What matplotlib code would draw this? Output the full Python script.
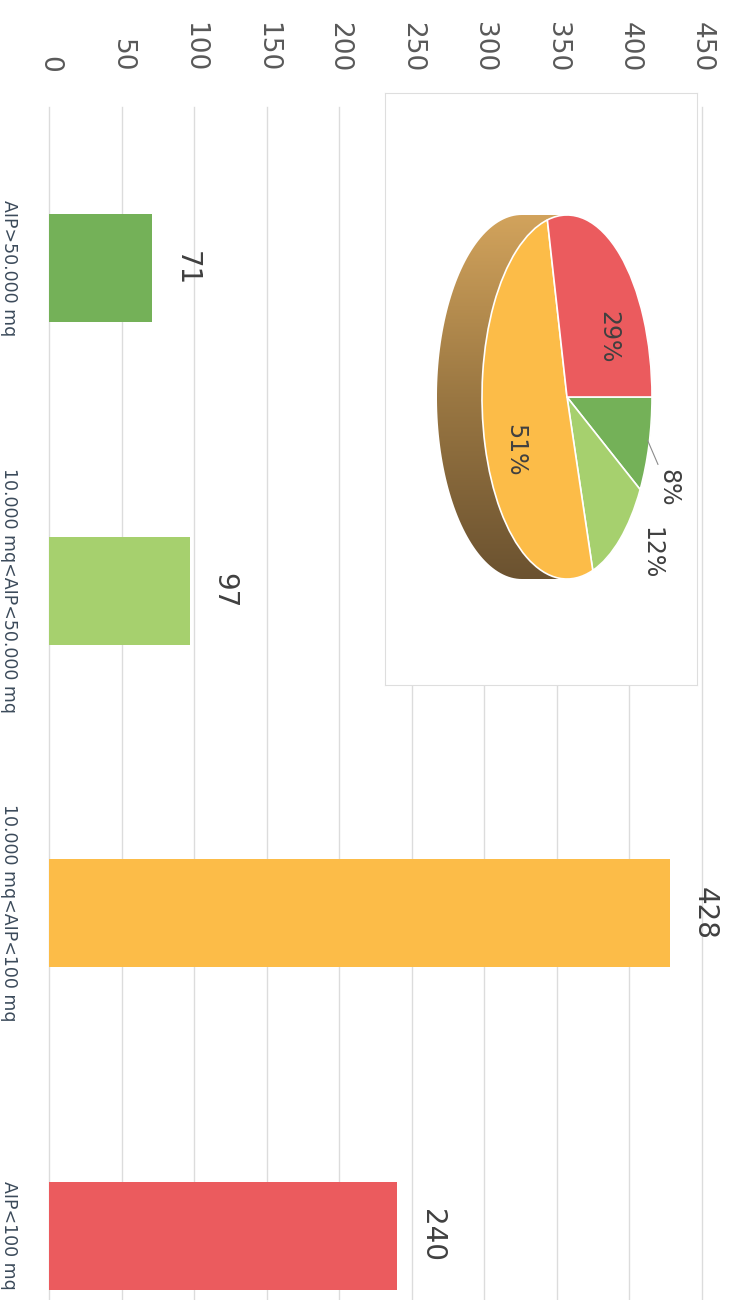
import numpy as np
import matplotlib.pyplot as plt
from matplotlib.colors import LinearSegmentedColormap
from matplotlib.patches import Polygon

categories = ['AIP>50.000 mq', '10.000 mq<AIP<50.000 mq', '10.000 mq<AIP<100 mq', 'AIP<100 mq']
values = [71, 97, 428, 240]
colors = ['#74b158', '#a6d06e', '#fcbc48', '#eb5b5e']
value_ticks = list(range(0, 451, 50))

W, H = 731, 1300
fig = plt.figure(figsize=(W / 100, H / 100), dpi=100)
fig.patch.set_facecolor('white')


def box(x0, y0, x1, y1):
    # pixel box on the page (origin top-left) -> figure fraction rect
    return [x0 / W, 1 - y1 / H, (x1 - x0) / W, (y1 - y0) / H]


# bar chart, drawn sideways (page is turned a quarter clockwise)
ax = fig.add_axes(box(49, 107, 702, 1397))
ax.barh(range(len(values)), values, height=0.335, color=colors, zorder=2)
ax.set_xlim(0, 450)
ax.set_ylim(len(values) - 0.5, -0.5)
ax.xaxis.tick_top()
ax.set_xticks(value_ticks)
ax.tick_params(axis='x', length=0, pad=25, labelsize=19, labelcolor='#595959', labelrotation=-90)
ax.set_yticks(range(len(categories)), categories)
ax.tick_params(axis='y', length=0, pad=22, labelsize=12.5, labelcolor='#3b4a5a', labelrotation=-90)
for lab in ax.get_yticklabels():
    lab.set_va('center')
ax.grid(axis='x', color='#dcdcdc', lw=1)
for gl in ax.get_xgridlines():
    gl.set_clip_on(False)
ax.set_axisbelow(True)
for s in ax.spines.values():
    s.set_visible(False)

for i, v in enumerate(values):
    ax.annotate(str(v), (v, i), xytext=(15, 0), textcoords='offset points',
                rotation=-90, ha='left', va='center', fontsize=20, color='#404040')

# pie inset
pax = fig.add_axes(box(385, 93, 697, 685), zorder=3)
pw, ph = 697 - 385, 685 - 93
cx, cy = 567 - 385, 397 - 93
rx, ry = 85, 182
depth = 45 / rx

# side of the 3d pie
t1 = np.linspace(np.pi / 2, -np.pi / 2, 100)
t2 = np.linspace(-np.pi / 2, -3 * np.pi / 2, 100)
side = np.concatenate([np.c_[np.cos(t1), np.sin(t1)],
                       np.c_[np.cos(t2) - depth, np.sin(t2)]])
side_patch = Polygon(side, closed=True, facecolor='none', edgecolor='none')
pax.add_patch(side_patch)
cmap = LinearSegmentedColormap.from_list('side', ['#6b5230', '#9a7742', '#d2a35c'])
grad = np.linspace(0, 1, 256).reshape(-1, 1)
im = pax.imshow(grad, extent=(-1 - depth, 1, -1, 1), origin='lower', cmap=cmap,
                aspect='auto', zorder=0.5)
im.set_clip_path(side_patch)

wedges, texts, autotexts = pax.pie(
    values, colors=colors, startangle=0, counterclock=False,
    autopct=lambda p: f'{p:.0f}%', pctdistance=0.66,
    wedgeprops=dict(edgecolor='white', linewidth=1.2),
    textprops=dict(rotation=-90, fontsize=17, color='#404040'))
label_pos = [(1.19, -0.50), (0.99, -0.86), (-0.61, -0.29), (0.49, 0.33)]
for t, pos in zip(autotexts, label_pos):
    t.set_position(pos)
pax.plot([0.95, 1.07], [-0.24, -0.37], color='#8c8c8c', lw=0.8)

pax.set_aspect('auto')
pax.set_xlim(-cx / rx, (pw - cx) / rx)
pax.set_ylim(-(ph - cy) / ry, cy / ry)
pax.set_frame_on(True)
pax.set_facecolor('white')
pax.set_xticks([])
pax.set_yticks([])
for s in pax.spines.values():
    s.set_color('#dedede')
    s.set_linewidth(0.8)

fig.savefig('out.png', dpi=100, facecolor='white')
